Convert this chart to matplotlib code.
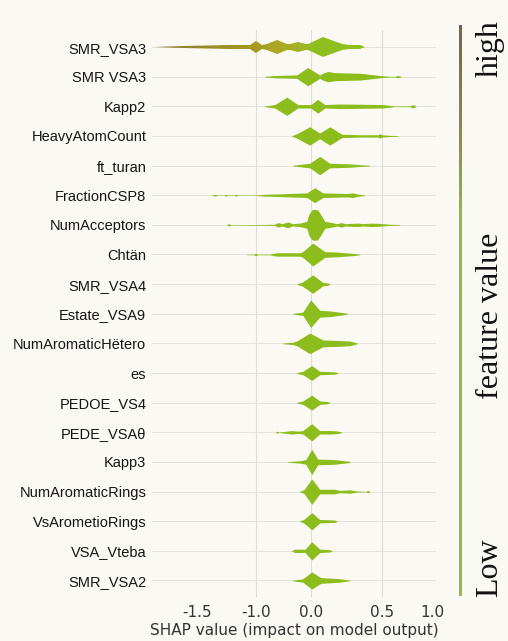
import numpy as np
import matplotlib.pyplot as plt
from matplotlib.colors import LinearSegmentedColormap

### FEATURES (top to bottom)
features = ["SMR_VSA3", "SMR VSA3", "Kapp2", "HeavyAtomCount", "ft_turan",
            "FractionCSP8", "NumAcceptors", "Chtän", "SMR_VSA4", "Estate_VSA9",
            "NumAromaticHëtero", "es", "PEDOE_VS4", "PEDE_VSAθ", "Kapp3",
            "NumAromaticRings", "VsArometioRings", "VSA_Vteba", "SMR_VSA2"]

### VIOLIN OUTLINES: shap value / half thickness (px)
x_smr_vsa3 = [-1.86, -1.62, -1.22, -1.05, -1.0, -0.89, -0.8, -0.62, -0.44, -0.38,
              -0.24, -0.09, -0.055, 0.085, 0.218, 0.275, 0.345, 0.38, 0.61]
w_smr_vsa3 = [0.3, 0.8, 1.5, 2, 5, 2, 2.5, 6, 2.5, 3, 4, 3, 3, 9, 3, 2, 1.5, 0.4, 0.3]
x_smr_vsa3b = [-0.836, -0.655, -0.255, -0.055, 0.063, 0.085, 0.12, 0.169, 0.345,
               0.486, 0.578, 0.627, 0.657, 0.686]
w_smr_vsa3b = [0.3, 1, 1.5, 8, 1.5, 3, 4.5, 3.5, 3, 1, 0.3, 0.3, 1, 0.3]
x_kapp2 = [-0.836, -0.655, -0.436, -0.236, 0.0, 0.049, 0.099, 0.204, 0.51, 0.627,
           0.775, 0.804, 0.833]
w_kapp2 = [0.3, 1.5, 8, 1.5, 1.5, 6, 1.5, 2, 1.5, 0.3, 0.3, 1.5, 0.3]
x_heavy = [-0.345, -0.273, -0.018, 0.063, 0.134, 0.218, 0.345, 0.472, 0.486, 0.5,
           0.578, 0.657]
w_heavy = [0.3, 1.5, 8, 2.5, 8, 1.5, 1, 1, 2, 1, 0.5, 0.3]
x_ft_turan = [-0.327, -0.2, -0.018, 0.063, 0.134, 0.275, 0.345, 0.415]
w_ft_turan = [0.3, 1, 2, 8, 2, 1.5, 0.8, 0.3]
x_fraction = [-1.373, -1.347, -1.322, -1.271, -1.254, -1.237, -1.186, -1.169, -1.153,
              -1.008, -0.836, -0.38, -0.073, 0.028, 0.085, 0.254, 0.296, 0.331, 0.38]
w_fraction = [0.2, 0.7, 0.2, 0.2, 0.7, 0.2, 0.2, 0.7, 0.2, 0.2, 0.8, 1.5, 2, 6.5, 2,
              1.5, 2, 1, 0.3]
x_acceptors = [-1.246, -1.229, -1.212, -0.927, -0.655, -0.6, -0.527, -0.418, -0.327,
               -0.2, -0.073, -0.036, 0.007, 0.028, 0.049, 0.07, 0.099, 0.148, 0.183,
               0.218, 0.239, 0.331, 0.366, 0.43, 0.486, 0.578, 0.676]
w_acceptors = [0.2, 1, 0.2, 0.3, 0.5, 2, 1, 2.5, 1, 1.5, 3, 9, 13, 13.5, 13, 9, 3, 2,
               1, 2, 1, 1.5, 1, 1.5, 1.2, 0.5, 0.3]
x_chtan = [-1.076, -1.017, -1.0, -0.964, -0.745, -0.618, -0.2, -0.145, 0.014, 0.099,
           0.19, 0.239, 0.296, 0.345]
w_chtan = [0.2, 0.3, 1, 0.3, 0.3, 1.5, 1.5, 2.5, 10, 2.5, 2, 1.5, 1, 0.3]
x_smr_vsa4 = [-0.255, -0.164, 0.014, 0.085, 0.12, 0.134]
w_smr_vsa4 = [0.3, 1.5, 8, 1.5, 1, 0.3]
x_estate = [-0.327, -0.145, 0.0, 0.063, 0.134, 0.225, 0.26]
w_estate = [0.3, 1.5, 12, 3, 2.5, 1, 0.3]
x_hetero = [-0.51, -0.327, -0.255, -0.018, 0.085, 0.204, 0.275, 0.324]
w_hetero = [0.3, 1, 2, 9, 3, 2.5, 2, 0.5]
x_es = [-0.255, -0.145, 0.007, 0.063, 0.169, 0.19]
w_es = [0.3, 1.5, 6.5, 1.5, 1, 0.3]
x_pedoe = [-0.255, -0.145, 0.007, 0.063, 0.113, 0.134]
w_pedoe = [0.3, 1.5, 6.5, 1.5, 1, 0.3]
x_pede = [-0.636, -0.618, -0.582, -0.436, -0.345, -0.236, -0.145, 0.007, 0.063,
          0.134, 0.183, 0.218]
w_pede = [0.2, 1, 0.2, 1, 1.5, 1, 1.5, 7.5, 1.5, 1.5, 1.2, 0.3]
x_kapp3 = [-0.418, -0.2, -0.091, 0.007, 0.049, 0.169, 0.275]
w_kapp3 = [0.3, 1, 2, 11, 2.5, 2, 0.5]
x_arom = [-0.2, -0.127, 0.007, 0.063, 0.169, 0.204, 0.275, 0.324, 0.387, 0.401, 0.415]
w_arom = [0.3, 1.5, 11, 2, 2, 1, 1.5, 0.5, 0.2, 1, 0.2]
x_vsarom = [-0.2, -0.127, 0.007, 0.063, 0.169, 0.183]
w_vsarom = [0.3, 1.5, 7.5, 1.5, 1, 0.3]
x_vteba = [-0.345, -0.291, -0.164, -0.109, 0.007, 0.063, 0.134, 0.148]
w_vteba = [0.3, 1.5, 1.5, 1.2, 8, 1.5, 1, 0.3]
x_smr_vsa2 = [-0.327, -0.145, 0.007, 0.07, 0.204, 0.275]
w_smr_vsa2 = [0.3, 1.5, 7.5, 2.5, 1.5, 0.3]

outline_x = [x_smr_vsa3, x_smr_vsa3b, x_kapp2, x_heavy, x_ft_turan, x_fraction,
             x_acceptors, x_chtan, x_smr_vsa4, x_estate, x_hetero, x_es, x_pedoe,
             x_pede, x_kapp3, x_arom, x_vsarom, x_vteba, x_smr_vsa2]
outline_w = [w_smr_vsa3, w_smr_vsa3b, w_kapp2, w_heavy, w_ft_turan, w_fraction,
             w_acceptors, w_chtan, w_smr_vsa4, w_estate, w_hetero, w_es, w_pedoe,
             w_pede, w_kapp3, w_arom, w_vsarom, w_vteba, w_smr_vsa2]

### X AXIS: tick labels are unevenly spaced in the picture
tick_vals = [-1.5, -1.0, 0.0, 0.5, 1.0]
tick_labels = ["-1.5", "-1.0", "0.0", "0.5", "1.0"]
grid_vals = [-1.0, 0.0, 0.5]
scale_vals = [-2.5, -1.5, -1.0, 0.0, 0.5, 1.0, 2.0]
scale_pos = [79, 197, 256, 311, 382, 433, 535]

def fwd(v):
    return np.interp(v, scale_vals, scale_pos)

def inv(p):
    return np.interp(p, scale_pos, scale_vals)

ROW_SCALE = 1.15 / 29.7   # px thickness -> row units
BG = '#fbf9f3'
GREEN = '#8cbd1c'

fig = plt.figure(figsize=(5.08, 6.41), dpi=100, facecolor=BG)
ax = fig.add_axes([0.299, 0.069, 0.559, 0.884], facecolor=BG)
ax.set_xscale('function', functions=(fwd, inv))
ax.set_xlim(-1.88, 1.03)
ax.set_ylim(18.55, -0.57)

### Grid lines
for i in range(len(features)):
    ax.axhline(i, color='#e4e2dc', lw=0.7, zorder=1)
for g in grid_vals:
    ax.axvline(g, color='#e0ddd7', lw=0.8, zorder=1)

### Violins
top_cmap = LinearSegmentedColormap.from_list(
    'top', [(0.0, '#8a7a30'), (0.3, '#a39a22'), (0.42, '#aca624'),
            (0.58, '#a2b226'), (0.66, '#8fbf1f'), (1.0, '#8cbf1e')])
for i, (xs, ws) in enumerate(zip(outline_x, outline_w)):
    xs = np.asarray(xs)
    hw = np.asarray(ws) * ROW_SCALE
    if i == 0:
        poly = ax.fill_between(xs, i - hw, i + hw, color='none', lw=0, zorder=3)
        xe = np.linspace(-1.88, 1.03, 300)
        ye = np.array([i - 0.5, i + 0.5])
        cval = (xe[:-1] + xe[1:]) / 2
        mesh = ax.pcolormesh(xe, ye, cval[None, :], cmap=top_cmap,
                             vmin=-1.88, vmax=1.03, shading='flat', zorder=3)
        mesh.set_clip_path(poly.get_paths()[0], ax.transData)
    else:
        ax.fill_between(xs, i - hw, i + hw, color=GREEN, lw=0, zorder=3)

### Ticks and labels
ax.set_yticks(range(len(features)))
ax.set_yticklabels(features, family='Liberation Sans', fontsize=10.5, color='#151515')
ax.set_xticks(tick_vals)
ax.set_xticklabels(tick_labels, family='DejaVu Sans', fontsize=11, color='#333333')
ax.xaxis.set_minor_locator(plt.NullLocator())
ax.tick_params(axis='both', length=0)
ax.tick_params(axis='y', pad=4)
ax.tick_params(axis='x', pad=6)
ax.set_xlabel('SHAP value (impact on model output)', family='DejaVu Sans',
              fontsize=11, color='#333333', labelpad=2)
for s in ax.spines.values():
    s.set_visible(False)

### Feature value bar on the right
cax = fig.add_axes([459 / 508, 1 - 596 / 641, 3 / 508, 571 / 641])
bar_cmap = LinearSegmentedColormap.from_list(
    'bar', [(0.0, '#8dc03c'), (0.66, '#8dbf3c'), (0.8, '#8e9040'), (1.0, '#7b6249')])
cax.imshow(np.linspace(0, 1, 256)[:, None], aspect='auto', cmap=bar_cmap,
           origin='lower')
cax.axis('off')

fig.text(490 / 508, 1 - 49 / 641, 'high', rotation=90, ha='center', va='center',
         family='Liberation Serif', fontsize=23, color='#111111')
fig.text(490 / 508, 1 - 316 / 641, 'feature value', rotation=90, ha='center',
         va='center', family='Liberation Serif', fontsize=23, color='#111111')
fig.text(490 / 508, 1 - 568 / 641, 'Low', rotation=90, ha='center', va='center',
         family='Liberation Serif', fontsize=23, color='#111111')

fig.savefig('out.png', dpi=100, facecolor=BG)
